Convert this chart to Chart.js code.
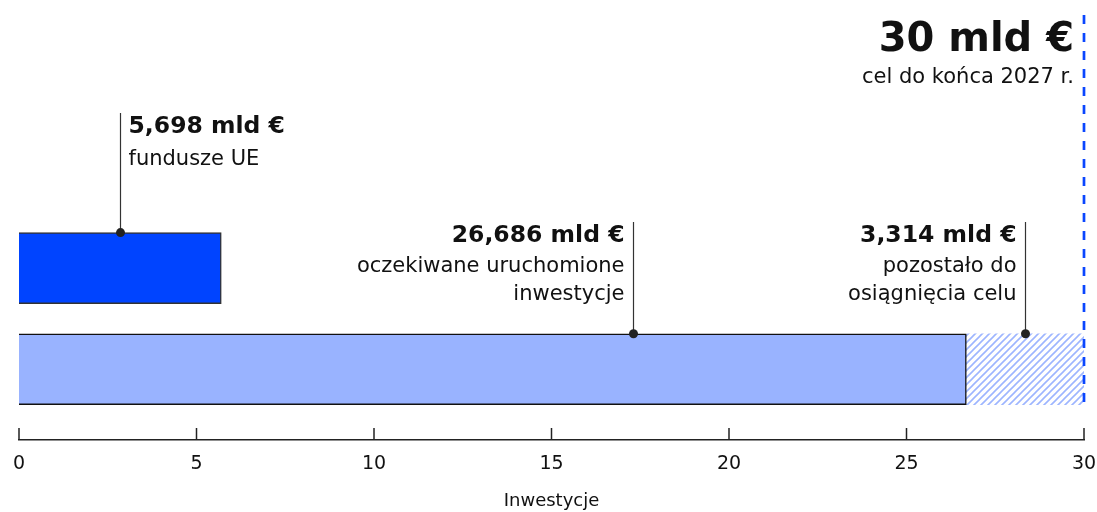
<!DOCTYPE html>
<html lang="pl">
<head>
    <meta charset="UTF-8">
    <title>Inwestycje</title>
    <script src="https://cdn.jsdelivr.net/npm/chart.js@4.4.0/dist/chart.umd.min.js"></script>
    <style>
        body {
            margin: 0;
            background: #fff;
            font-family: 'DejaVu Sans', sans-serif;
        }

        .chart-wrap {
            position: relative;
            width: 1097px;
            height: 512px;
        }
    </style>
</head>
<body>
    <div class="chart-wrap">
        <canvas id="investChart"></canvas>
    </div>

    <script>
        // dane
        const rows = ['fundusze UE', 'inwestycje'];
        const euFunds = [5.698];
        const investments = [26.686];
        const remaining = [3.314];
        const targetValue = 30;
        const xTicks = [0, 5, 10, 15, 20, 25, 30];

        // opisy przy słupkach
        const noteValues = [2.849, 17.3, 28.343];
        const noteTitles = ['5,698 mld €', '26,686 mld €', '3,314 mld €'];
        const noteLines = [['fundusze UE'], ['oczekiwane uruchomione', 'inwestycje'], ['pozostało do', 'osiągnięcia celu']];
        const targetTitle = '30 mld €';
        const targetLine = 'cel do końca 2027 r.';

        const FONT = "'DejaVu Sans', sans-serif";

        // wzór kreskowania dla brakującej części
        function makeHatch() {
            const c = document.createElement('canvas');
            const s = 7;
            c.width = s;
            c.height = s;
            const g = c.getContext('2d');
            g.fillStyle = '#fff';
            g.fillRect(0, 0, s, s);
            g.strokeStyle = '#9db5ff';
            g.lineWidth = 1.6;
            g.beginPath();
            g.moveTo(-1, s + 1); g.lineTo(s + 1, -1);
            g.moveTo(-2, 2); g.lineTo(2, -2);
            g.moveTo(s - 2, s + 2); g.lineTo(s + 2, s - 2);
            g.stroke();
            return g.createPattern(c, 'repeat');
        }

        const notesPlugin = {
            id: 'notes',
            afterDatasetsDraw(chart) {
                const ctx = chart.ctx;
                const x = chart.scales.x;
                const y = chart.scales.y;
                const area = chart.chartArea;

                // linia celu
                const tx = x.getPixelForValue(targetValue);
                ctx.save();
                ctx.strokeStyle = '#0a46ff';
                ctx.lineWidth = 2.7;
                ctx.setLineDash([9, 9]);
                ctx.beginPath();
                ctx.moveTo(tx, 15);
                ctx.lineTo(tx, y.getPixelForValue(2) + 35.5);
                ctx.stroke();
                ctx.restore();

                // znaczniki osi skierowane w górę
                ctx.save();
                ctx.strokeStyle = '#222';
                ctx.lineWidth = 1.5;
                xTicks.forEach(v => {
                    const px = x.getPixelForValue(v);
                    ctx.beginPath();
                    ctx.moveTo(px, area.bottom);
                    ctx.lineTo(px, area.bottom - 12);
                    ctx.stroke();
                });
                ctx.restore();

                // linie odniesienia i kropki
                const tops = [113, 222, 222];
                const rowOf = [1, 2, 2];
                noteValues.forEach((v, i) => {
                    const px = Math.round(x.getPixelForValue(v)) + 0.5;
                    const py = y.getPixelForValue(rowOf[i]) - 35.5;
                    ctx.save();
                    ctx.strokeStyle = '#333';
                    ctx.lineWidth = 1.2;
                    ctx.beginPath();
                    ctx.moveTo(px, tops[i]);
                    ctx.lineTo(px, py);
                    ctx.stroke();
                    ctx.fillStyle = '#222';
                    ctx.beginPath();
                    ctx.arc(px, py, 4.5, 0, Math.PI * 2);
                    ctx.fill();

                    ctx.fillStyle = '#111';
                    ctx.textBaseline = 'alphabetic';
                    if (i === 0) {
                        ctx.textAlign = 'left';
                        ctx.font = 'bold 23.5px ' + FONT;
                        ctx.fillText(noteTitles[i], px + 8, 133);
                        ctx.font = '21px ' + FONT;
                        noteLines[i].forEach((t, k) => ctx.fillText(t, px + 8, 165 + k * 29));
                    } else {
                        ctx.textAlign = 'right';
                        ctx.font = 'bold 23.5px ' + FONT;
                        ctx.fillText(noteTitles[i], px - 9, 242);
                        ctx.font = '21px ' + FONT;
                        noteLines[i].forEach((t, k) => ctx.fillText(t, px - 9, 272 + k * 28));
                    }
                    ctx.restore();
                });

                // napis celu
                ctx.save();
                ctx.fillStyle = '#111';
                ctx.textAlign = 'right';
                ctx.font = 'bold 40px ' + FONT;
                ctx.fillText(targetTitle, tx - 10, 51);
                ctx.font = '21px ' + FONT;
                ctx.fillText(targetLine, tx - 10, 83);
                ctx.restore();
            }
        };

        const hatch = makeHatch();

        new Chart(document.getElementById('investChart'), {
            type: 'bar',
            data: {
                datasets: [
                    {
                        label: rows[0],
                        data: [{ x: euFunds[0], y: 1 }],
                        backgroundColor: '#0044ff',
                        borderColor: '#333',
                        borderWidth: 1.5,
                        barThickness: 71,
                        grouped: false
                    },
                    {
                        label: rows[1],
                        data: [{ x: investments[0], y: 2 }],
                        backgroundColor: '#99b3ff',
                        borderColor: '#111',
                        borderWidth: 1.5,
                        barThickness: 71,
                        grouped: false
                    },
                    {
                        label: 'pozostało',
                        data: [{ x: [investments[0], investments[0] + remaining[0]], y: 2 }],
                        backgroundColor: hatch,
                        borderWidth: 0,
                        barThickness: 71,
                        grouped: false
                    }
                ]
            },
            options: {
                indexAxis: 'y',
                responsive: true,
                maintainAspectRatio: false,
                animation: false,
                layout: {
                    padding: { top: 167, left: 19, right: 13, bottom: 0 }
                },
                plugins: {
                    legend: { display: false },
                    tooltip: { enabled: false }
                },
                scales: {
                    y: {
                        type: 'linear',
                        min: 0,
                        max: 2.7,
                        reverse: true,
                        offset: false,
                        display: false
                    },
                    x: {
                        type: 'linear',
                        min: 0,
                        max: targetValue,
                        afterBuildTicks(scale) {
                            scale.ticks = xTicks.map(v => ({ value: v }));
                        },
                        afterFit(scale) {
                            scale.height = 72;
                            scale.paddingLeft = 0;
                            scale.paddingRight = 0;
                        },
                        grid: { display: false },
                        border: { display: true, color: '#222', width: 1.5 },
                        ticks: {
                            color: '#111',
                            padding: 5,
                            font: { family: FONT, size: 19 }
                        },
                        title: {
                            display: true,
                            text: 'Inwestycje',
                            color: '#111',
                            padding: { top: 0, bottom: 0 },
                            font: { family: FONT, size: 18 }
                        }
                    }
                }
            },
            plugins: [notesPlugin]
        });
    </script>
</body>
</html>
